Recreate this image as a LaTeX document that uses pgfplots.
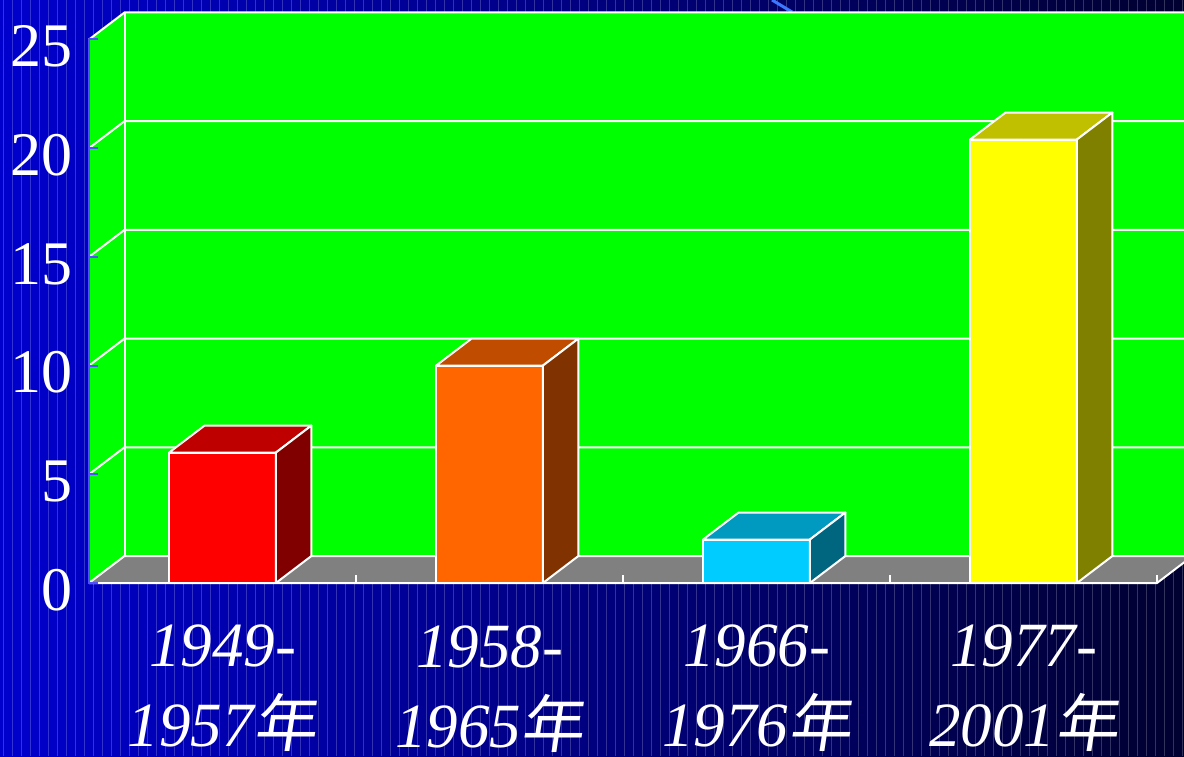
\documentclass[border=0pt]{standalone}
\usepackage{pgfplots}
\pgfplotsset{compat=1.18}
\usepackage{pgfplotstable}
\usepackage{fontspec}
\setmainfont{Liberation Serif}
\newfontfamily\cjk[FakeSlant=0.15]{Noto Sans CJK SC}

\definecolor{bgL}{RGB}{0,0,205}
\definecolor{bgR}{RGB}{0,0,48}
\definecolor{wall}{RGB}{0,255,0}
\definecolor{floorc}{RGB}{128,128,128}
\definecolor{axblue}{RGB}{80,80,255}
\definecolor{front0}{RGB}{255,0,0}
\definecolor{top0}{RGB}{190,0,0}
\definecolor{side0}{RGB}{128,0,0}
\definecolor{front1}{RGB}{255,102,0}
\definecolor{top1}{RGB}{192,76,0}
\definecolor{side1}{RGB}{128,51,0}
\definecolor{front2}{RGB}{0,204,255}
\definecolor{top2}{RGB}{0,153,192}
\definecolor{side2}{RGB}{0,102,128}
\definecolor{front3}{RGB}{255,255,0}
\definecolor{top3}{RGB}{192,192,0}
\definecolor{side3}{RGB}{128,128,0}

\pgfplotstableread{
x y
0 6.0
1 10.0
2 2.0
3 20.4
}\datatable

\begin{document}
\begin{tikzpicture}[x=1pt,y=1pt]
\useasboundingbox (0,0) rectangle (1184,756);
% background
\shade[left color=bgL, right color=bgR] (0,0) rectangle (1184,756);
\foreach \k in {0,...,131}{\draw[white, opacity=0.2, line width=0.9pt] ({\k*9+3},0) -- ({\k*9+3},756);}
\draw[color={rgb,255:red,60;green,120;blue,255}, line width=3pt] (772,756) -- (792,744);
% walls and floor
\fill[wall] (124.5,200) rectangle (1184,743.5);
\fill[wall] (89,173) -- (124.5,200) -- (124.5,743.5) -- (89,716.5) -- cycle;
\fill[floorc] (89,173) -- (1157,173) -- (1192.5,200) -- (124.5,200) -- cycle;
\foreach \v in {0,5,...,25}{\draw[white, line width=2pt] (89,{173+\v*21.74}) -- (124.5,{200+\v*21.74}) -- (1190,{200+\v*21.74});}
\draw[white, line width=2pt] (124.5,200) -- (124.5,743.5);
\draw[white, line width=2pt] (89,173) -- (1157,173) -- (1192.5,200);
\foreach \k in {1,2,3,4}{\draw[white, line width=2pt] ({89+267*\k},173) -- ({89+267*\k},181);}
\draw[axblue, line width=2pt] (89,172) -- (89,716.5);
\foreach \v in {0,5,...,25}{\draw[axblue, line width=2pt] (89,{173+\v*21.74}) -- (98,{173+\v*21.74});}

\begin{axis}[
  at={(89pt,173pt)}, anchor=south west,
  scale only axis, width=1068pt, height=543.5pt,
  xmin=-0.5, xmax=3.5, ymin=0, ymax=25,
  clip=false,
  axis line style={draw=none},
  major tick length=0pt,
  xtick={0,1,2,3},
  xticklabels={{1949-\\1957{\cjk 年}},{1958-\\1965{\cjk 年}},{1966-\\1976{\cjk 年}},{1977-\\2001{\cjk 年}}},
  ytick={0,5,10,15,20,25},
  xticklabel style={font=\fontsize{63}{80}\selectfont\itshape, text=white, align=center,
    anchor=north, inner sep=0pt, yshift=-42pt},
  yticklabel style={font=\fontsize{62}{62}\selectfont, text=white, anchor=east,
    inner sep=0pt, xshift=-16pt, yshift=-7pt, /pgf/number format/assume math mode=true},
]
\addplot[ybar, bar width=106.8pt, bar shift=0pt, fill=front0, draw=white, line width=2pt, restrict x to domain=-0.2:0.2] table[x=x,y=y]{\datatable};
\addplot[ybar, bar width=106.8pt, bar shift=0pt, fill=front1, draw=white, line width=2pt, restrict x to domain=0.8:1.2] table[x=x,y=y]{\datatable};
\addplot[ybar, bar width=106.8pt, bar shift=0pt, fill=front2, draw=white, line width=2pt, restrict x to domain=1.8:2.2] table[x=x,y=y]{\datatable};
\addplot[ybar, bar width=106.8pt, bar shift=0pt, fill=front3, draw=white, line width=2pt, restrict x to domain=2.8:3.2] table[x=x,y=y]{\datatable};
\addplot[scatter, only marks, mark=*, mark size=0pt,
  mark options={draw=none, fill=none},
  visualization depends on={rawx \as \rx},
  visualization depends on={rawy \as \ry},
  scatter/@pre marker code/.code={%
    \pgfmathtruncatemacro\idx{round(\rx)}%
    \pgfmathsetmacro\B{27-\ry*21.74}%
    \pgfmathsetmacro\F{-\ry*21.74}%
    \filldraw[fill=top\idx, draw=white, fill opacity=1, draw opacity=1, line width=2pt, line join=round]
      (-53.4pt,0pt) -- (-17.9pt,27pt) -- (88.9pt,27pt) -- (53.4pt,0pt) -- cycle;
    \filldraw[fill=side\idx, draw=white, fill opacity=1, draw opacity=1, line width=2pt, line join=round]
      (53.4pt,0pt) -- (88.9pt,27pt) -- (88.9pt,\B pt) -- (53.4pt,\F pt) -- cycle;
  },
  scatter/@post marker code/.code={}
] table[x=x,y=y]{\datatable};
\end{axis}
\end{tikzpicture}
\end{document}
